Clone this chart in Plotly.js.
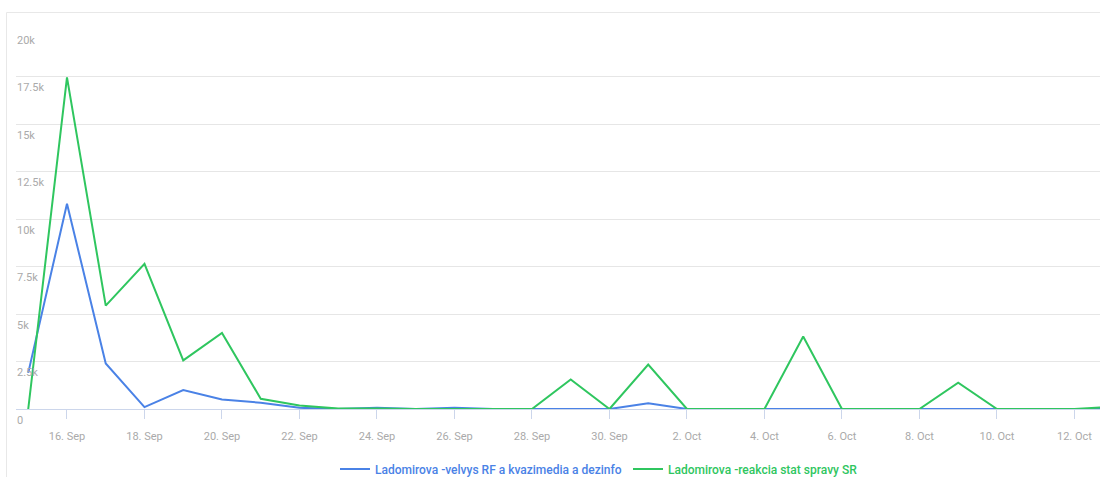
<!DOCTYPE html>
<html>
<head>
<meta charset="utf-8">
<script src="https://cdn.plot.ly/plotly-3.0.1.min.js"></script>
<style>
  html, body { margin: 0; padding: 0; background: #ffffff; }
  #chart { width: 1100px; height: 477px; }
</style>
</head>
<body>
<div id="chart"></div>
<script>
// ---- data ----
const dates = [
  '2024-09-15','2024-09-16','2024-09-17','2024-09-18','2024-09-19','2024-09-20','2024-09-21',
  '2024-09-22','2024-09-23','2024-09-24','2024-09-25','2024-09-26','2024-09-27','2024-09-28',
  '2024-09-29','2024-09-30','2024-10-01','2024-10-02','2024-10-03','2024-10-04','2024-10-05',
  '2024-10-06','2024-10-07','2024-10-08','2024-10-09','2024-10-10','2024-10-11','2024-10-12',
  '2024-10-13'
];
const seriesNames = [
  'Ladomirova -velvys RF a kvazimedia a dezinfo',
  'Ladomirova -reakcia stat spravy SR'
];
const velvysValues = [
  1900, 10800, 2400, 100, 1000, 500, 330,
  60, 0, 60, 0, 60, 0, 0,
  0, 0, 300, 0, 0, 0, 0,
  0, 0, 0, 0, 0, 0, 0,
  0
];
const reakciaValues = [
  0, 17450, 5440, 7640, 2560, 4000, 540,
  180, 20, 30, 0, 0, 0, 0,
  1550, 0, 2340, 0, 0, 0, 3820,
  0, 0, 0, 1380, 0, 0, 0,
  120
];
const yTicks = [0, 2500, 5000, 7500, 10000, 12500, 15000, 17500, 20000];
const yTickLabels = ['0', '2.5k', '5k', '7.5k', '10k', '12.5k', '15k', '17.5k', '20k'];

// ---- style ----
const BLUE = '#4a82e6';
const GREEN = '#2fc65f';
const PLOT_TOP = 28, PLOT_BOTTOM = 409.5, PLOT_LEFT = 16;
const Y_MAX = 20000 * (PLOT_BOTTOM - PLOT_TOP) / (PLOT_BOTTOM - 29);
const PH = PLOT_BOTTOM - PLOT_TOP, PW = 1100 - PLOT_LEFT;

const traces = [
  {
    x: dates, y: velvysValues, type: 'scatter', mode: 'lines',
    name: '<span style="color:' + BLUE + '">' + seriesNames[0] + '</span>',
    line: { color: BLUE, width: 2 }
  },
  {
    x: dates, y: reakciaValues, type: 'scatter', mode: 'lines',
    name: '<span style="color:' + GREEN + '">' + seriesNames[1] + '</span>',
    line: { color: GREEN, width: 2 }
  }
];

const annotations = yTicks.map((v, i) => ({
  xref: 'paper', yref: 'y', x: 0, y: v,
  xanchor: 'left', yanchor: 'middle', xshift: -1, yshift: -11,
  text: yTickLabels[i], showarrow: false,
  font: { family: 'Roboto, sans-serif', size: 11, color: '#aaaaaa' }
}));

const layout = {
  width: 1100, height: 477,
  margin: { l: PLOT_LEFT, r: 0, t: PLOT_TOP, b: 477 - PLOT_BOTTOM, autoexpand: false },
  paper_bgcolor: '#ffffff', plot_bgcolor: '#ffffff',
  font: { family: 'Roboto, "Open Sans", sans-serif', size: 11, color: '#aaaaaa' },
  showlegend: true,
  legend: {
    orientation: 'h', x: (335 - PLOT_LEFT) / PW, xanchor: 'left',
    yref: 'container', y: (477 - 469) / 477, yanchor: 'middle',
    font: { family: 'Roboto, sans-serif', size: 12, weight: 500 },
    bgcolor: 'rgba(0,0,0,0)', borderwidth: 0,
    entrywidth: 248, entrywidthmode: 'pixels',
    traceorder: 'normal'
  },
  xaxis: {
    type: 'date',
    range: ['2024-09-14 16:25', '2024-10-12 15:50'],
    tick0: '2024-09-16', dtick: 2 * 86400000,
    tickformat: '%-d. %b',
    showgrid: false, zeroline: false,
    showline: true, linecolor: '#ccd6eb', linewidth: 1,
    ticks: 'outside', ticklen: 9, tickcolor: '#ccd6eb', tickwidth: 1,
    ticklabelstandoff: 8,
    tickfont: { size: 11, color: '#aaaaaa' },
    automargin: false,
    fixedrange: true
  },
  yaxis: {
    range: [0, Y_MAX],
    tickvals: yTicks,
    showticklabels: false,
    showgrid: true, gridcolor: '#e6e6e6', gridwidth: 1,
    zeroline: false, showline: false, ticks: '',
    automargin: false,
    fixedrange: true
  },
  annotations: annotations,
  shapes: [
    { type: 'line', xref: 'paper', yref: 'paper',
      x0: (6.5 - PLOT_LEFT) / PW, x1: (6.5 - PLOT_LEFT) / PW,
      y0: (PLOT_BOTTOM - 12.5) / PH, y1: (PLOT_BOTTOM - 480) / PH,
      line: { color: '#e8e8e8', width: 1 } },
    { type: 'line', xref: 'paper', yref: 'paper',
      x0: (6.5 - PLOT_LEFT) / PW, x1: (1110 - PLOT_LEFT) / PW,
      y0: (PLOT_BOTTOM - 12.5) / PH, y1: (PLOT_BOTTOM - 12.5) / PH,
      line: { color: '#e8e8e8', width: 1 } }
  ],
  hovermode: false
};

Plotly.newPlot('chart', traces, layout, { staticPlot: true, displayModeBar: false });
</script>
</body>
</html>
